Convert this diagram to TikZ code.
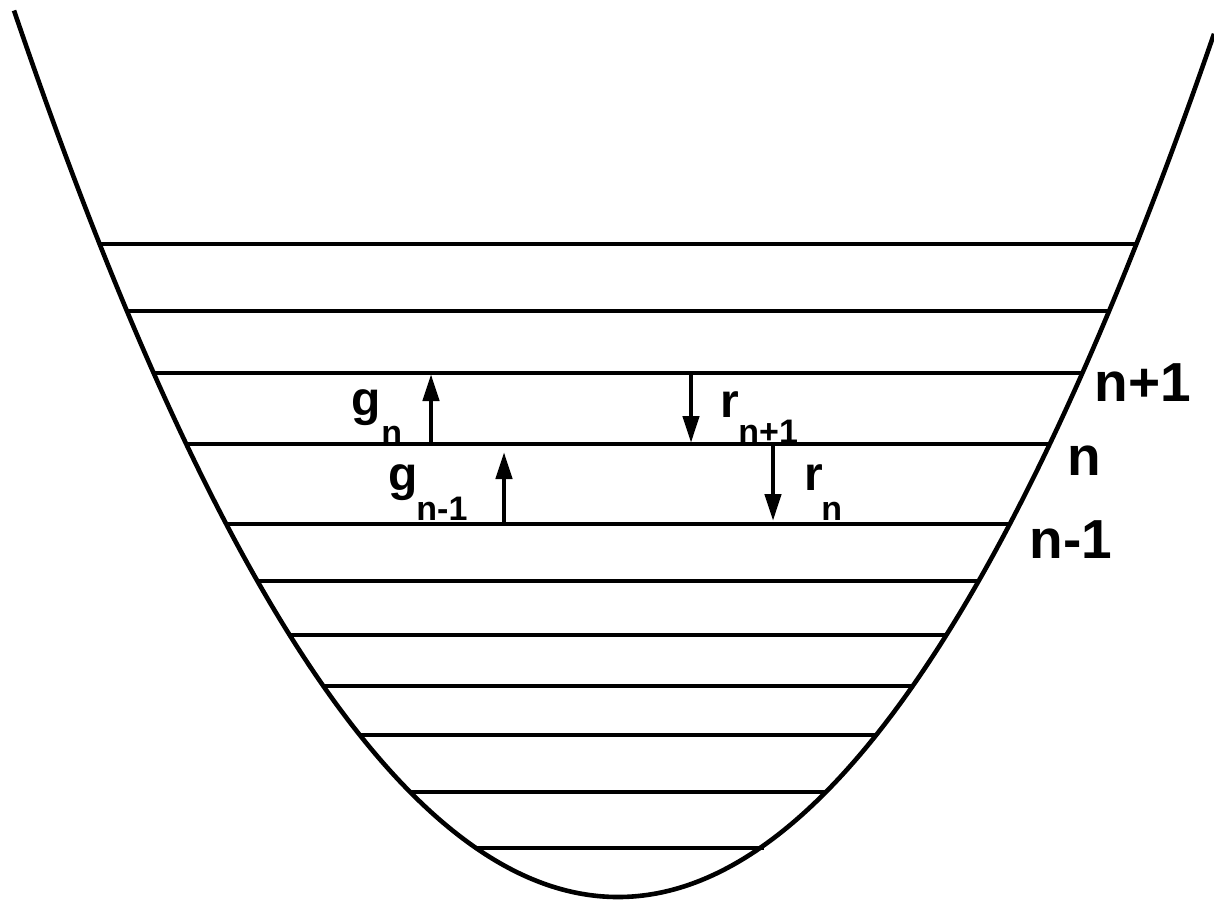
\documentclass[tikz,border=0pt]{standalone}
\usepackage{fontspec}
\setmainfont{Liberation Sans}
\usetikzlibrary{arrows.meta}
\begin{document}
\begin{tikzpicture}[x=0.5pt,y=-0.5pt,
  curve/.style={line width=2.3pt},
  level/.style={line width=2.2pt},
  arr/.style={line width=2.2pt,-{Triangle[length=13.5pt,width=8pt]}},
  lbl/.style={font=\fontsize{24}{28}\selectfont\bfseries, inner sep=0pt, anchor=base west},
  sublbl/.style={font=\fontsize{17}{20}\selectfont\bfseries, inner sep=0pt, anchor=base west},
  big/.style={font=\fontsize{27.5}{32}\selectfont\bfseries, inner sep=0pt, anchor=base west}]
\useasboundingbox (0,0) rectangle (1214,905);
% potential well
\draw[curve, domain=14:1214, samples=240, smooth] plot (\x, {897-24.3*((\x-618)/100)^2});
% energy levels
\foreach \y/\a/\b in {244/99.6/1136.4, 311/126.9/1109.1, 373/153.6/1082.4, 444/186.2/1049.8,
  524/226.2/1009.8, 581/257.4/978.6, 635/289.6/946.4, 686/323.3/912.7,
  735/359.8/876.2, 792/410.1/825.9, 848/476/764}
  \draw[level] (\a,\y) -- (\b,\y);
% arrows
\coordinate (gnb) at (431,445); \coordinate (gnt) at (431,374);
\coordinate (gmb) at (504,524); \coordinate (gmt) at (504,452);
\coordinate (rpt) at (691,373); \coordinate (rpb) at (691,443);
\coordinate (rnt) at (773,445); \coordinate (rnb) at (773,521);
\draw[arr] (gnb) -- (gnt);
\draw[arr] (gmb) -- (gmt);
\draw[arr] (rpt) -- (rpb);
\draw[arr] (rnt) -- (rnb);
% labels
\node[lbl] (g1) at (351,415) {g};
\node[sublbl] (g1s) at (381,444) {n};
\node[lbl] (g2) at (388,490) {g};
\node[sublbl] (g2s) at (416,520) {n-1};
\node[lbl] (r1) at (720,417) {r};
\node[sublbl] (r1s) at (738,443) {n+1};
\node[lbl] (r2) at (804,490) {r};
\node[sublbl] (r2s) at (821,520) {n};
\node[big] (lnp) at (1094,401) {n+1};
\node[big] (ln) at (1067,475) {n};
\node[big] (lnm) at (1029,558) {n-1};
\end{tikzpicture}
\end{document}
